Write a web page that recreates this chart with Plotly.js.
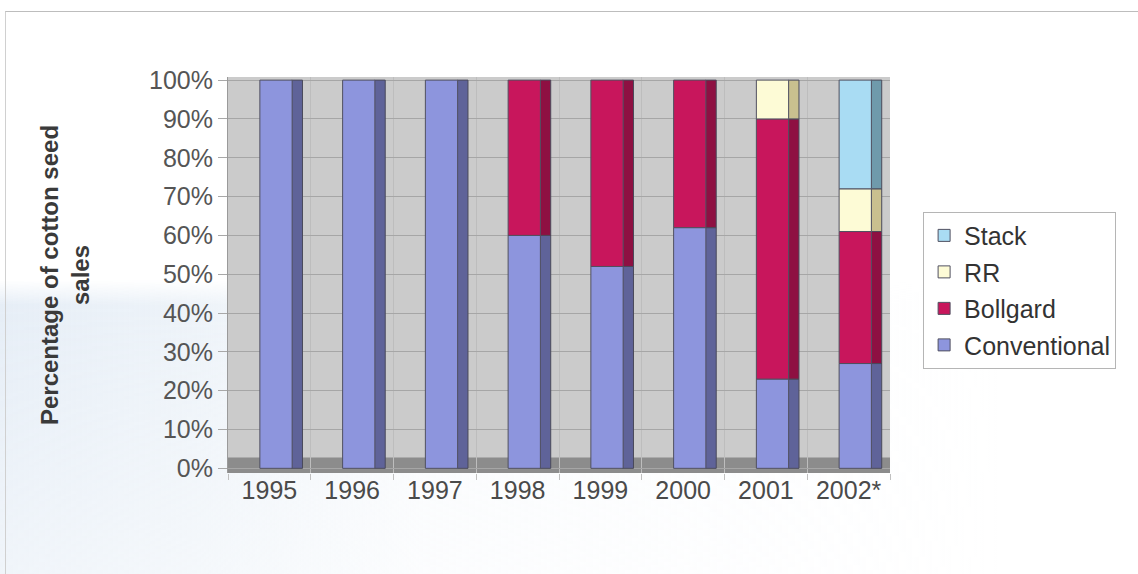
<!DOCTYPE html>
<html>
<head>
<meta charset="utf-8">
<script src="https://cdn.plot.ly/plotly-3.0.1.min.js"></script>
<style>
  html, body { margin: 0; padding: 0; background: #ffffff; }
  #wrap { position: relative; width: 1138px; height: 574px; overflow: hidden; background: #ffffff; }
  #tint { position: absolute; left: 0; top: 280px; width: 1000px; height: 294px; pointer-events: none;
          background: linear-gradient(90deg, rgba(226,235,245,0.85) 0px, rgba(230,238,246,0.7) 200px, rgba(238,243,249,0.35) 420px, rgba(255,255,255,0) 1000px);
          -webkit-mask-image: linear-gradient(180deg, rgba(0,0,0,0) 0px, rgba(0,0,0,1) 25px, rgba(0,0,0,0.6) 294px);
          mask-image: linear-gradient(180deg, rgba(0,0,0,0) 0px, rgba(0,0,0,1) 25px, rgba(0,0,0,0.6) 294px); }
  #frame { position: absolute; left: 5px; top: 11px; width: 1200px; height: 600px;
           border-top: 1px solid #bdbdbd; border-left: 1px solid #d0d0d0; pointer-events: none; }
  #chart { position: absolute; left: 0; top: 0; width: 1138px; height: 574px; }
</style>
</head>
<body>
<div id="wrap">
  <div id="tint"></div>
  <div id="chart"></div>
  <div id="frame"></div>
</div>
<script>
// Share of cotton seed sales by seed type, per season
const years = ['1995', '1996', '1997', '1998', '1999', '2000', '2001', '2002*'];
const conventional = [100, 100, 100, 60, 52, 62, 23, 27];
const bollgard = [0, 0, 0, 40, 48, 38, 67, 34];
const rr = [0, 0, 0, 0, 0, 0, 10, 11];
const stack = [0, 0, 0, 0, 0, 0, 0, 28];
const yTicks = [0, 10, 20, 30, 40, 50, 60, 70, 80, 90, 100];

const series = [
  { name: 'Conventional', values: conventional, face: '#8d95dd', side: '#5f6399' },
  { name: 'Bollgard', values: bollgard, face: '#c8165c', side: '#8e1042' },
  { name: 'RR', values: rr, face: '#fdfbd6', side: '#c9c08f' },
  { name: 'Stack', values: stack, face: '#a9dcf3', side: '#6f9aab' }
];

// cumulative bases so each segment sits on the ones below it
const bases = [];
let running = years.map(() => 0);
series.forEach(s => {
  bases.push(running.slice());
  running = running.map((v, i) => v + s.values[i]);
});

const nz = arr => arr.map(v => (v === 0 ? null : v));

const traces = [];
// darker side faces, drawn behind the front faces
series.forEach((s, k) => {
  traces.push({
    type: 'bar', x: years, y: nz(s.values), base: bases[k],
    width: 0.13, offset: 0.27,
    marker: { color: s.side, line: { color: '#4a4a5a', width: 1 } },
    showlegend: false, hoverinfo: 'skip'
  });
});
// front faces; the legend lists the top segment first
series.forEach((s, k) => {
  traces.push({
    type: 'bar', name: s.name, legendgroup: s.name, legendrank: series.length - k,
    x: years, y: nz(s.values), base: bases[k],
    width: 0.39, offset: -0.115,
    marker: { color: s.face, line: { color: '#505060', width: 1 } }
  });
});

const layout = {
  width: 1138, height: 574,
  margin: { l: 228, r: 248, t: 77, b: 101 },
  paper_bgcolor: 'rgba(0,0,0,0)',
  plot_bgcolor: '#cbcbcb',
  barmode: 'overlay',
  font: { family: 'Liberation Sans, Arial, sans-serif', color: '#444' },
  xaxis: {
    type: 'category',
    tickson: 'boundaries',
    ticks: 'outside', ticklen: 6, tickcolor: '#c0c0c0',
    showgrid: true, gridcolor: '#bdbdbd', gridwidth: 1,
    showline: false,
    tickfont: { size: 25, color: '#4a4a4a' },
    range: [-0.5, 7.5]
  },
  yaxis: {
    range: [-1.2, 100.8],
    tickvals: yTicks,
    ticktext: yTicks.map(v => v + '%'),
    ticks: 'outside', ticklen: 9, tickcolor: '#a8a8a8',
    showgrid: true, gridcolor: '#a6a6a6', gridwidth: 1,
    zeroline: false,
    showline: true, linecolor: '#9a9a9a', linewidth: 1,
    tickfont: { size: 25, color: '#555' },
    title: {
      text: '<b>Percentage of cotton seed<br>sales</b>',
      font: { size: 24, color: '#3a3a3a' },
      standoff: 52
    }
  },
  shapes: [
    // floor of the plot box
    { type: 'rect', xref: 'paper', yref: 'y', x0: 0, x1: 1, y0: -1.2, y1: 2.8,
      fillcolor: '#8c8c8c', line: { width: 0 }, layer: 'between' }
  ],
  legend: {
    x: 1.05, y: 0.66, xanchor: 'left', yanchor: 'top',
    traceorder: 'grouped',
    tracegroupgap: 1,
    bgcolor: '#ffffff', bordercolor: '#b5b5b5', borderwidth: 1,
    font: { size: 25, color: '#333' },
    itemwidth: 30
  }
};

Plotly.newPlot('chart', traces, layout, { displayModeBar: false, staticPlot: true });
</script>
</body>
</html>
